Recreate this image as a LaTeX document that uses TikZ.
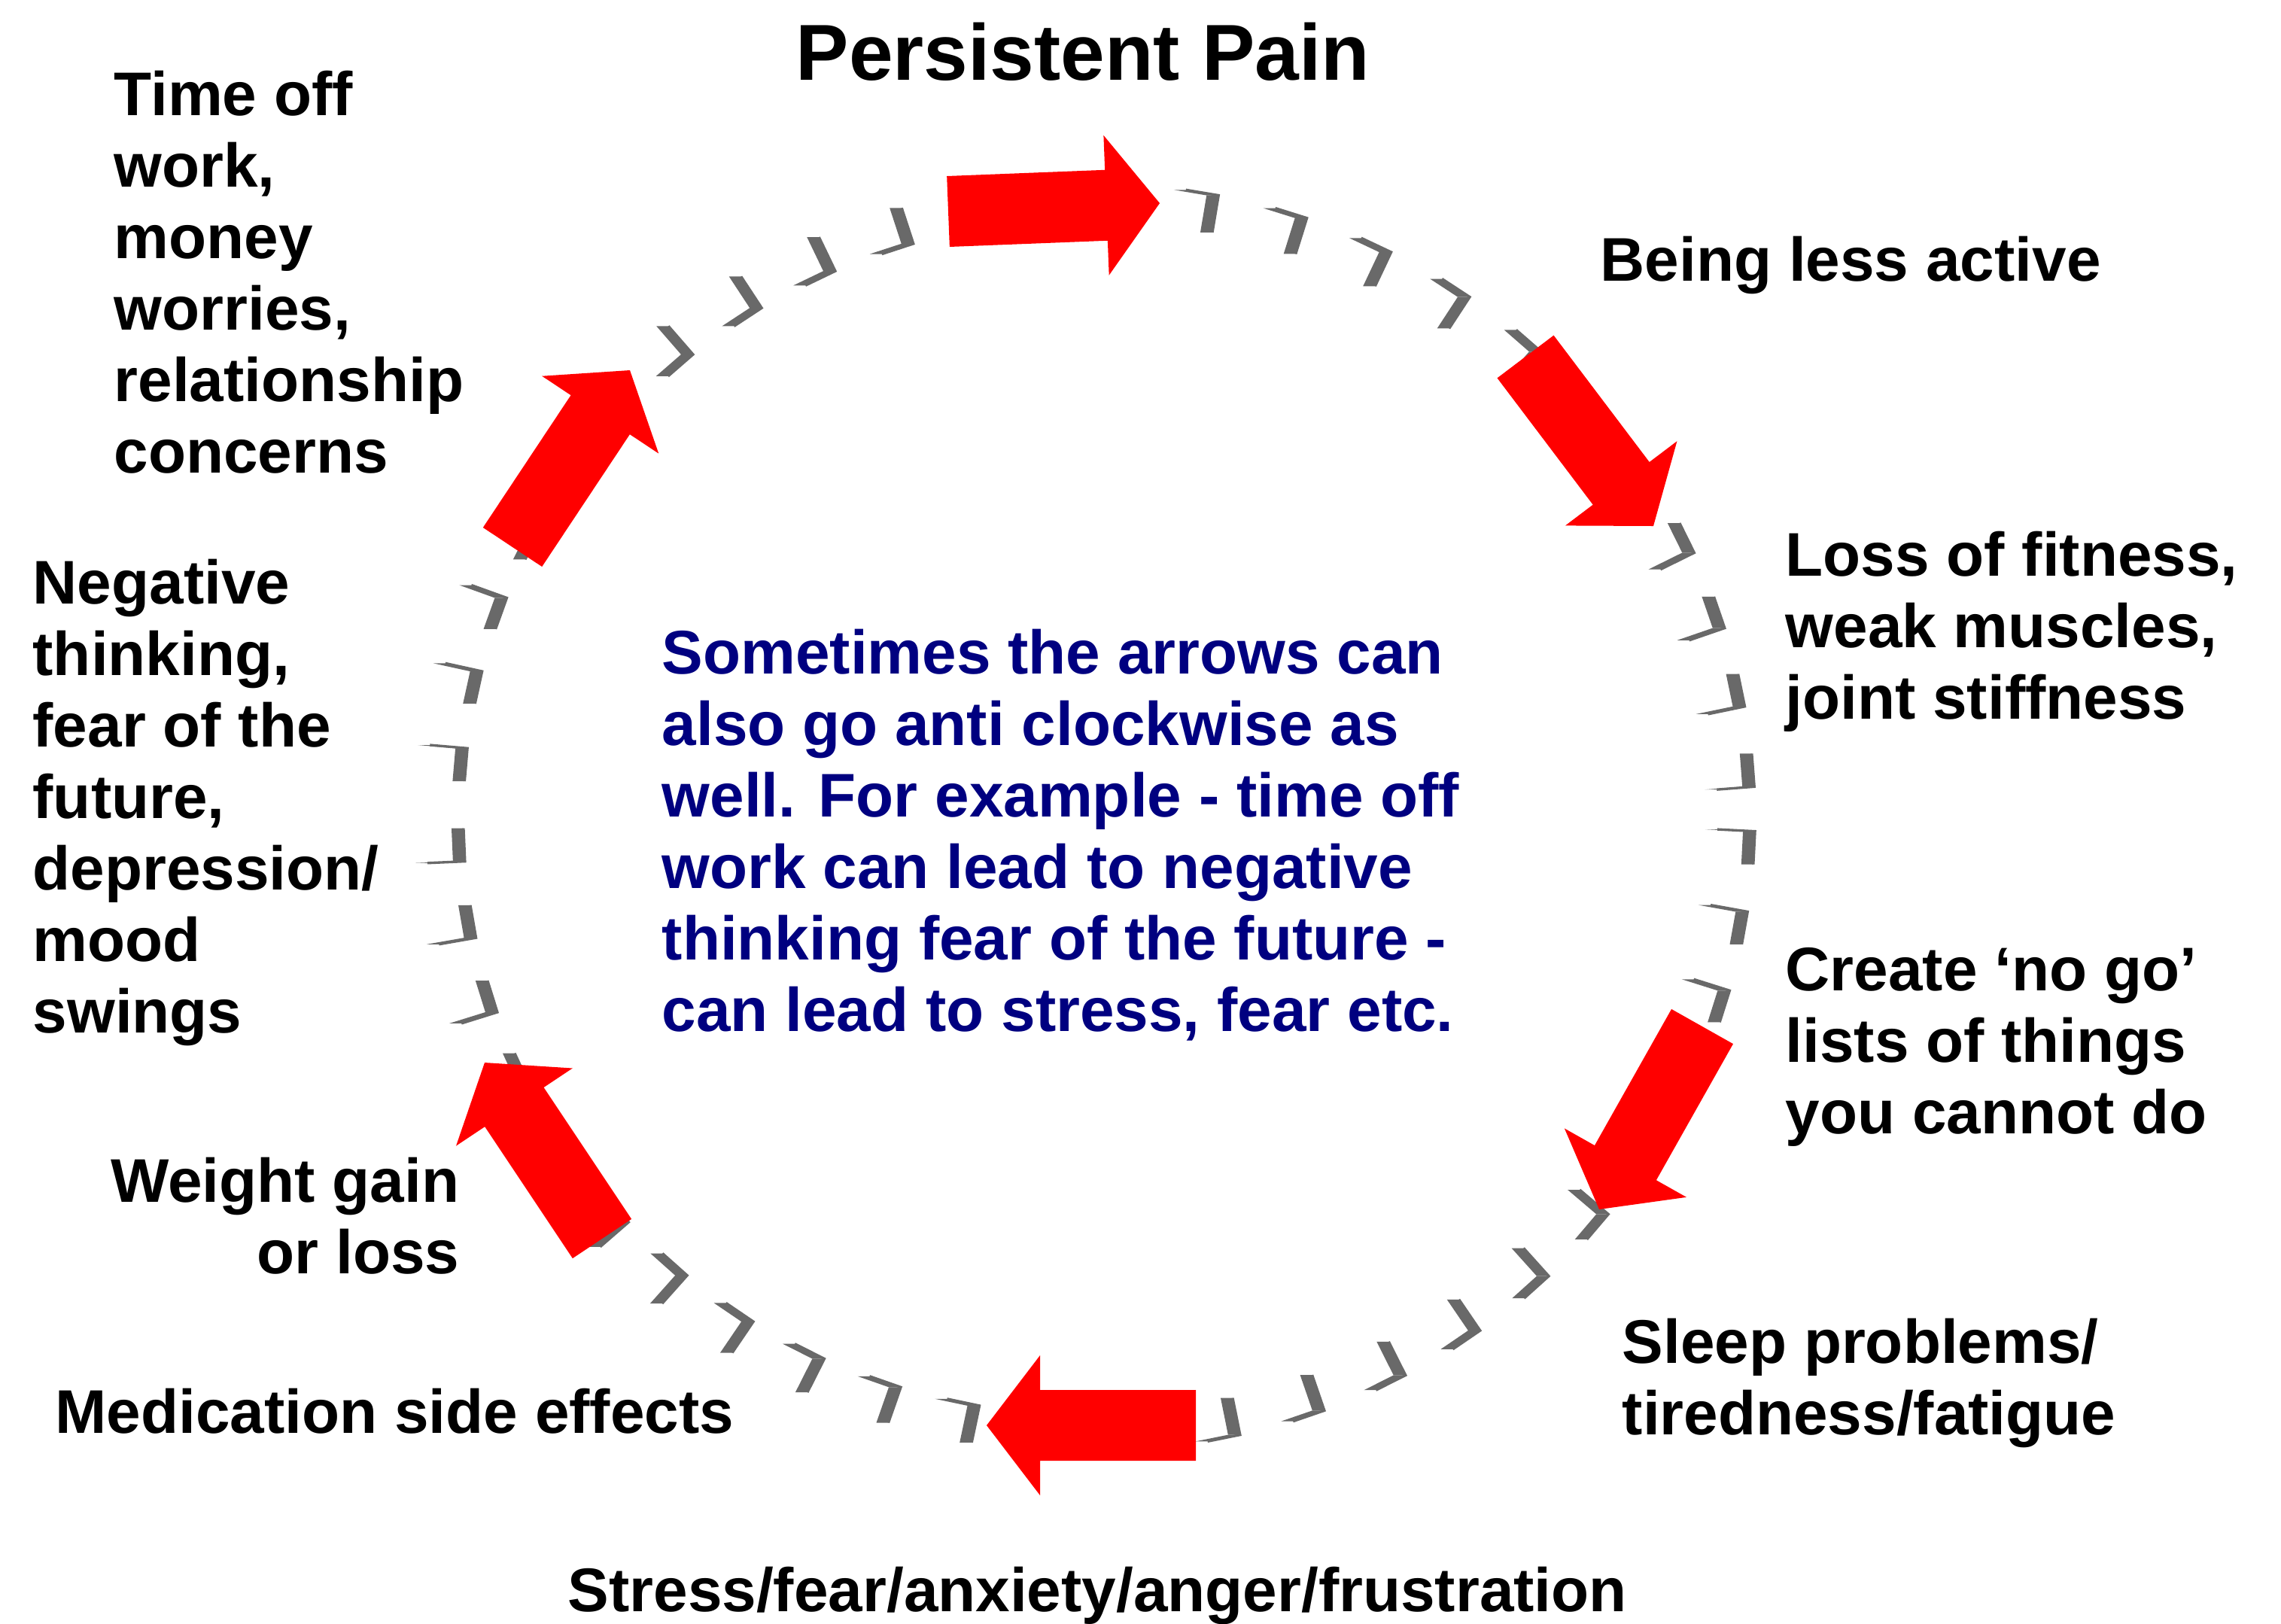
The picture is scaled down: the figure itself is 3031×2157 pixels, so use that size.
\documentclass[tikz,border=0pt]{standalone}
\usepackage{fontspec}
\setmainfont{Liberation Sans}
\usetikzlibrary{calc}
\definecolor{arrowred}{RGB}{255,0,0}
\definecolor{dashgray}{RGB}{105,105,105}
\definecolor{navytext}{RGB}{0,0,128}
\newcommand\lblk[1]{\vtop{\baselineskip=27.03pt\lineskiplimit=-100pt\halign{##\hfil\cr#1\crcr}}}
\newcommand\rblk[1]{\vtop{\baselineskip=27.03pt\lineskiplimit=-100pt\halign{\hfil##\cr#1\crcr}}}
\newcommand\blkarrow[3]{%
  \coordinate (#1t) at #2;
  \coordinate (#1h) at #3;
  \coordinate (#1b) at ($(#1h)!0.71cm!(#1t)$);
  \fill[arrowred] ($(#1t)!0.47cm!90:(#1h)$) -- ($(#1b)!0.47cm!-90:(#1t)$) -- ($(#1b)!0.93cm!-90:(#1t)$)
     -- (#1h) -- ($(#1b)!0.93cm!90:(#1t)$) -- ($(#1b)!0.47cm!90:(#1t)$) -- ($(#1t)!0.47cm!-90:(#1h)$) -- cycle;}
\begin{document}
\begin{tikzpicture}[x=0.01cm,y=-0.01cm,
  txt/.style={inner sep=0pt, font=\fontsize{23.3}{27.03}\selectfont\bfseries, text=black},
  bluetxt/.style={txt, text=navytext},
  titletxt/.style={inner sep=0pt, font=\fontsize{30}{36}\selectfont\bfseries, text=black}]
\fill[white] (0,0) rectangle (3031,2157);
\useasboundingbox (0,0) rectangle (3031,2157);
% ring of hooked dashes
\def\ecx{1444}\def\ecy{1086}\def\erx{858}\def\ery{818}
\foreach \a in {80.5,72.6,64.7,56.8,48.9,
                26.3,19.0,11.7,4.4,-2.9,-10.2,-17.5,
                -40.4,-48.0,-55.7,-63.3,-71.0,-78.6,
                220.9,228.3,235.8,243.2,250.7,258.1,
                153,160.2,167.6,175.1,182.5,189.9,197.3,204.7,
                108.1,115.7,123.3,131.0,138.5}{
  \pgfmathsetmacro\ppx{\ecx+\erx*cos(\a)}
  \pgfmathsetmacro\ppy{\ecy-\ery*sin(\a)}
  \pgfmathsetmacro\sgnr{ifthenelse(cos(\a)>0,-1,1)}
  \pgfmathsetmacro\sgnt{ifthenelse(sin(\a)>0,-1,1)}
  \pgfmathsetmacro\rvx{\sgnr*cos(\a)}
  \pgfmathsetmacro\rvy{-1*\sgnr*sin(\a)}
  \pgfmathsetmacro\tvx{\sgnt*sin(\a)}
  \pgfmathsetmacro\tvy{\sgnt*cos(\a)}
  \pgfmathsetmacro\ccx{\ppx-24*(\rvx+\tvx)+6}
  \pgfmathsetmacro\ccy{\ppy-24*(\rvy+\tvy)}
  \pgfmathsetmacro\rqx{\ccx+50*\rvx}
  \pgfmathsetmacro\rqy{\ccy+50*\rvy}
  \pgfmathsetmacro\tqx{\ccx+44*\tvx}
  \pgfmathsetmacro\tqy{\ccy+44*\tvy}
  \fill[dashgray] (\ccx,\ccy) -- (\rqx,\rqy) -- (\rqx-16,\rqy) -- (\ccx-16,\ccy) -- cycle;
  \fill[dashgray] (\ccx,\ccy) -- (\tqx,\tqy) -- (\tqx-16,\tqy) -- (\ccx-16,\ccy) -- cycle;
  \draw[dashgray, line width=0.95pt, line join=miter] (\rqx,\rqy) -- (\ccx,\ccy) -- (\tqx,\tqy);
}
% red block arrows
\blkarrow{atop}{(1260,281)}{(1541,270)}
\blkarrow{aru}{(2027,474)}{(2197,699)}
\blkarrow{arl}{(2262,1364)}{(2125,1607)}
\blkarrow{abot}{(1589,1894)}{(1311,1894)}
\blkarrow{all}{(800,1646)}{(644,1412)}
\blkarrow{alu}{(681,727)}{(837,492)}
% texts
\node[titletxt, anchor=base west] (title) at (1057,106) {Persistent Pain};
\node[txt, anchor=base west] (timeoff) at (151,153) {\lblk{Time off\cr work,\cr money\cr worries,\cr relationship\cr concerns}};
\node[txt, anchor=base west] (active) at (2126,373) {Being less active};
\node[txt, anchor=base west] (fitness) at (2372,765) {\lblk{Loss of fitness,\cr weak muscles,\cr joint stiffness}};
\node[txt, anchor=base west] (nogo) at (2372,1316) {\lblk{Create ‘no go’\cr lists of things\cr you cannot do}};
\node[txt, anchor=base west] (sleep) at (2155,1811) {\lblk{Sleep problems/\cr tiredness/fatigue}};
\node[txt, anchor=base west] (stress) at (754,2141) {Stress/fear/anxiety/anger/frustration};
\node[txt, anchor=base west] (medic) at (73,1904) {Medication side effects};
\node[txt, anchor=base east] (weight) at (611,1597) {\rblk{Weight gain\cr or loss}};
\node[txt, anchor=base west] (negative) at (43,802) {\lblk{Negative\cr thinking,\cr fear of the\cr future,\cr depression/\cr mood\cr swings}};
\node[bluetxt, anchor=base west] (note) at (879,895) {\lblk{Sometimes the arrows can\cr also go anti clockwise as\cr well. For example - time off\cr work can lead to negative\cr thinking fear of the future -\cr can lead to stress, fear etc.}};
\end{tikzpicture}
\end{document}
